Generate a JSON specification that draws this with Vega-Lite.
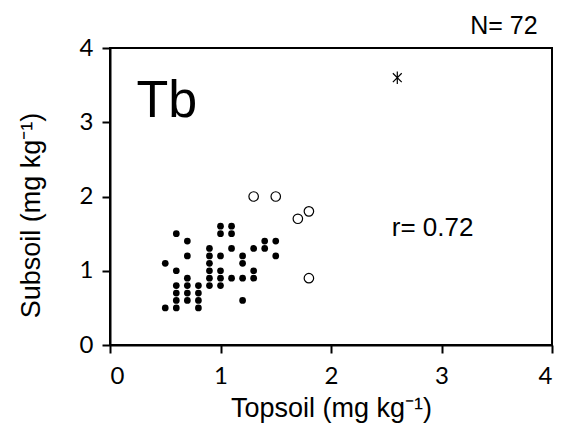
{
  "$schema": "https://vega.github.io/schema/vega-lite/v6.json",
  "width": 442,
  "height": 297,
  "autosize": "none",
  "padding": {"left": 110, "top": 48, "right": 10, "bottom": 90},
  "background": "white",
  "config": {
    "view": {"stroke": "black", "strokeWidth": 2},
    "axis": {
      "grid": false,
      "domainColor": "black",
      "domainWidth": 2,
      "tickColor": "black",
      "tickWidth": 2,
      "tickSize": 8,
      "labelFont": "Lato",
      "labelFontSize": 24,
      "labelColor": "black",
      "titleFont": "Liberation Sans",
      "titleFontSize": 27,
      "titleFontWeight": "normal",
      "titleColor": "black"
    }
  },
  "data": {
    "values": [
      {"top": 1.0, "sub": 1.6, "g": "filled"},
      {"top": 1.1, "sub": 1.6, "g": "filled"},
      {"top": 0.6, "sub": 1.5, "g": "filled"},
      {"top": 1.0, "sub": 1.5, "g": "filled"},
      {"top": 1.1, "sub": 1.5, "g": "filled"},
      {"top": 0.7, "sub": 1.4, "g": "filled"},
      {"top": 1.4, "sub": 1.4, "g": "filled"},
      {"top": 1.5, "sub": 1.4, "g": "filled"},
      {"top": 0.9, "sub": 1.3, "g": "filled"},
      {"top": 1.1, "sub": 1.3, "g": "filled"},
      {"top": 1.3, "sub": 1.3, "g": "filled"},
      {"top": 1.4, "sub": 1.3, "g": "filled"},
      {"top": 0.7, "sub": 1.2, "g": "filled"},
      {"top": 0.9, "sub": 1.2, "g": "filled"},
      {"top": 1.0, "sub": 1.2, "g": "filled"},
      {"top": 1.2, "sub": 1.2, "g": "filled"},
      {"top": 1.5, "sub": 1.2, "g": "filled"},
      {"top": 0.5, "sub": 1.1, "g": "filled"},
      {"top": 0.9, "sub": 1.1, "g": "filled"},
      {"top": 1.2, "sub": 1.1, "g": "filled"},
      {"top": 0.6, "sub": 1.0, "g": "filled"},
      {"top": 0.9, "sub": 1.0, "g": "filled"},
      {"top": 1.0, "sub": 1.0, "g": "filled"},
      {"top": 1.3, "sub": 1.0, "g": "filled"},
      {"top": 0.7, "sub": 0.9, "g": "filled"},
      {"top": 0.9, "sub": 0.9, "g": "filled"},
      {"top": 1.0, "sub": 0.9, "g": "filled"},
      {"top": 1.1, "sub": 0.9, "g": "filled"},
      {"top": 1.2, "sub": 0.9, "g": "filled"},
      {"top": 1.3, "sub": 0.9, "g": "filled"},
      {"top": 0.6, "sub": 0.8, "g": "filled"},
      {"top": 0.7, "sub": 0.8, "g": "filled"},
      {"top": 0.8, "sub": 0.8, "g": "filled"},
      {"top": 0.9, "sub": 0.8, "g": "filled"},
      {"top": 1.0, "sub": 0.8, "g": "filled"},
      {"top": 0.6, "sub": 0.7, "g": "filled"},
      {"top": 0.7, "sub": 0.7, "g": "filled"},
      {"top": 0.8, "sub": 0.7, "g": "filled"},
      {"top": 0.6, "sub": 0.6, "g": "filled"},
      {"top": 0.7, "sub": 0.6, "g": "filled"},
      {"top": 0.8, "sub": 0.6, "g": "filled"},
      {"top": 1.2, "sub": 0.6, "g": "filled"},
      {"top": 0.5, "sub": 0.5, "g": "filled"},
      {"top": 0.6, "sub": 0.5, "g": "filled"},
      {"top": 0.8, "sub": 0.5, "g": "filled"},
      {"top": 1.3, "sub": 2.0, "g": "open"},
      {"top": 1.5, "sub": 2.0, "g": "open"},
      {"top": 1.7, "sub": 1.7, "g": "open"},
      {"top": 1.8, "sub": 1.8, "g": "open"},
      {"top": 1.8, "sub": 0.9, "g": "open"},
      {"top": 2.6, "sub": 3.6, "g": "star"}
    ]
  },
  "layer": [
    {
      "transform": [{"filter": "datum.g === 'filled'"}],
      "mark": {"type": "point", "shape": "circle", "filled": true, "size": 45, "color": "black", "opacity": 1},
      "encoding": {
        "x": {"field": "top", "type": "quantitative", "scale": {"domain": [0, 4], "nice": false},
          "axis": {"values": [0, 1, 2, 3, 4], "format": "d", "title": "Topsoil (mg kg⁻¹)", "labelPadding": 11, "titlePadding": 7, "titleFontSize": 27, "labelFontSize": 24}},
        "y": {"field": "sub", "type": "quantitative", "scale": {"domain": [0, 4], "nice": false},
          "axis": {"values": [0, 1, 2, 3, 4], "format": "d", "title": "Subsoil (mg kg⁻¹)", "labelPadding": 9, "titlePadding": 34, "titleY": 167, "titleFontSize": 27, "labelFontSize": 24}}
      }
    },
    {
      "transform": [{"filter": "datum.g === 'open'"}],
      "mark": {"type": "point", "shape": "circle", "filled": false, "size": 90, "stroke": "black", "strokeWidth": 1.2, "opacity": 1},
      "encoding": {
        "x": {"field": "top", "type": "quantitative"},
        "y": {"field": "sub", "type": "quantitative"}
      }
    },
    {
      "transform": [{"filter": "datum.g === 'star'"}],
      "mark": {"type": "point", "shape": "M-0.7,-0.7L0.7,0.7M-0.7,0.7L0.7,-0.7M0,-1L0,1", "filled": false, "size": 160, "stroke": "black", "strokeWidth": 1.2, "opacity": 1},
      "encoding": {
        "x": {"field": "top", "type": "quantitative"},
        "y": {"field": "sub", "type": "quantitative"}
      }
    },
    {
      "data": {"values": [{"label": "Tb", "tx": 0.24, "ty": 3.07}]},
      "mark": {"type": "text", "font": "Liberation Sans", "fontSize": 52, "align": "left", "baseline": "alphabetic", "color": "black"},
      "encoding": {
        "x": {"field": "tx", "type": "quantitative"},
        "y": {"field": "ty", "type": "quantitative"},
        "text": {"field": "label"}
      }
    },
    {
      "data": {"values": [{"label": "r= 0.72", "tx": 2.55, "ty": 1.57}]},
      "mark": {"type": "text", "font": "Liberation Sans", "fontSize": 26, "align": "left", "baseline": "middle", "color": "black"},
      "encoding": {
        "x": {"field": "tx", "type": "quantitative"},
        "y": {"field": "ty", "type": "quantitative"},
        "text": {"field": "label"}
      }
    },
    {
      "data": {"values": [{"label": "N= 72", "tx": 3.26, "ty": 4.3}]},
      "mark": {"type": "text", "font": "Liberation Sans", "fontSize": 25, "align": "left", "baseline": "middle", "color": "black"},
      "encoding": {
        "x": {"field": "tx", "type": "quantitative"},
        "y": {"field": "ty", "type": "quantitative"},
        "text": {"field": "label"}
      }
    }
  ]
}
